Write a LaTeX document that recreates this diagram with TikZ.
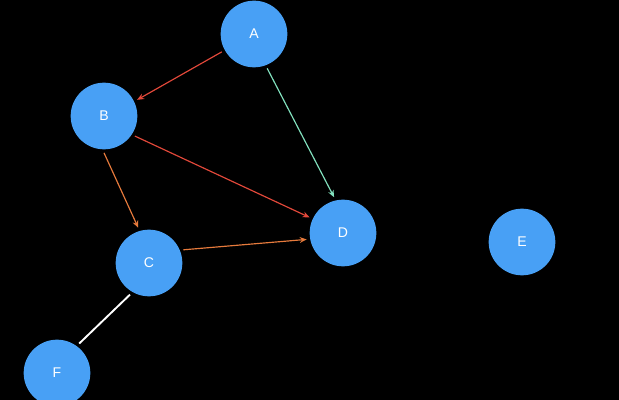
\documentclass[tikz,border=0pt]{standalone}
\usepackage{fontspec}
\setmainfont{Liberation Sans}
\usepackage{tikz}
\usetikzlibrary{positioning, arrows.meta}

\begin{document}
\begin{tikzpicture}[
  x=0.03cm, y=-0.03cm,
  vertex/.style={
    circle,
    fill=nodeblue,
    minimum size=2cm,
    inner sep=0pt,
    outer sep=3pt,
    text=white,
    font=\fontsize{12}{14}\selectfont
  },
  edge/.style={
    line width=1pt,
    -{Stealth[length=6pt, width=5pt]}
  }
]

\definecolor{nodeblue}{RGB}{72,160,245}
\definecolor{edgered}{RGB}{226,72,58}
\definecolor{edgeorange}{RGB}{230,122,60}
\definecolor{edgeteal}{RGB}{130,225,190}

\fill[black] (0,0) rectangle (619,400);
\useasboundingbox (0,0) rectangle (619,400);

\node[vertex] (A) at (254,34) {A};
\node[vertex] (B) at (104,116) {B};
\node[vertex] (C) at (149,263) {C};
\node[vertex] (D) at (343,233) {D};
\node[vertex] (E) at (522,242) {E};
\node[vertex] (F) at (57,373) {F};

\draw[edge, edgered] (A.209) -- (B.26);
\draw[edge, edgeteal] (A.-69) -- (D.104);
\draw[edge, edgered] (B.-33) -- (D.155);
\draw[edge, edgeorange] (B.270) -- (C.107);
\draw[edge, edgeorange] (C.21) -- (D.190);
\draw[white, line width=1.6pt] (C.239) -- (F.53);

\end{tikzpicture}
\end{document}
